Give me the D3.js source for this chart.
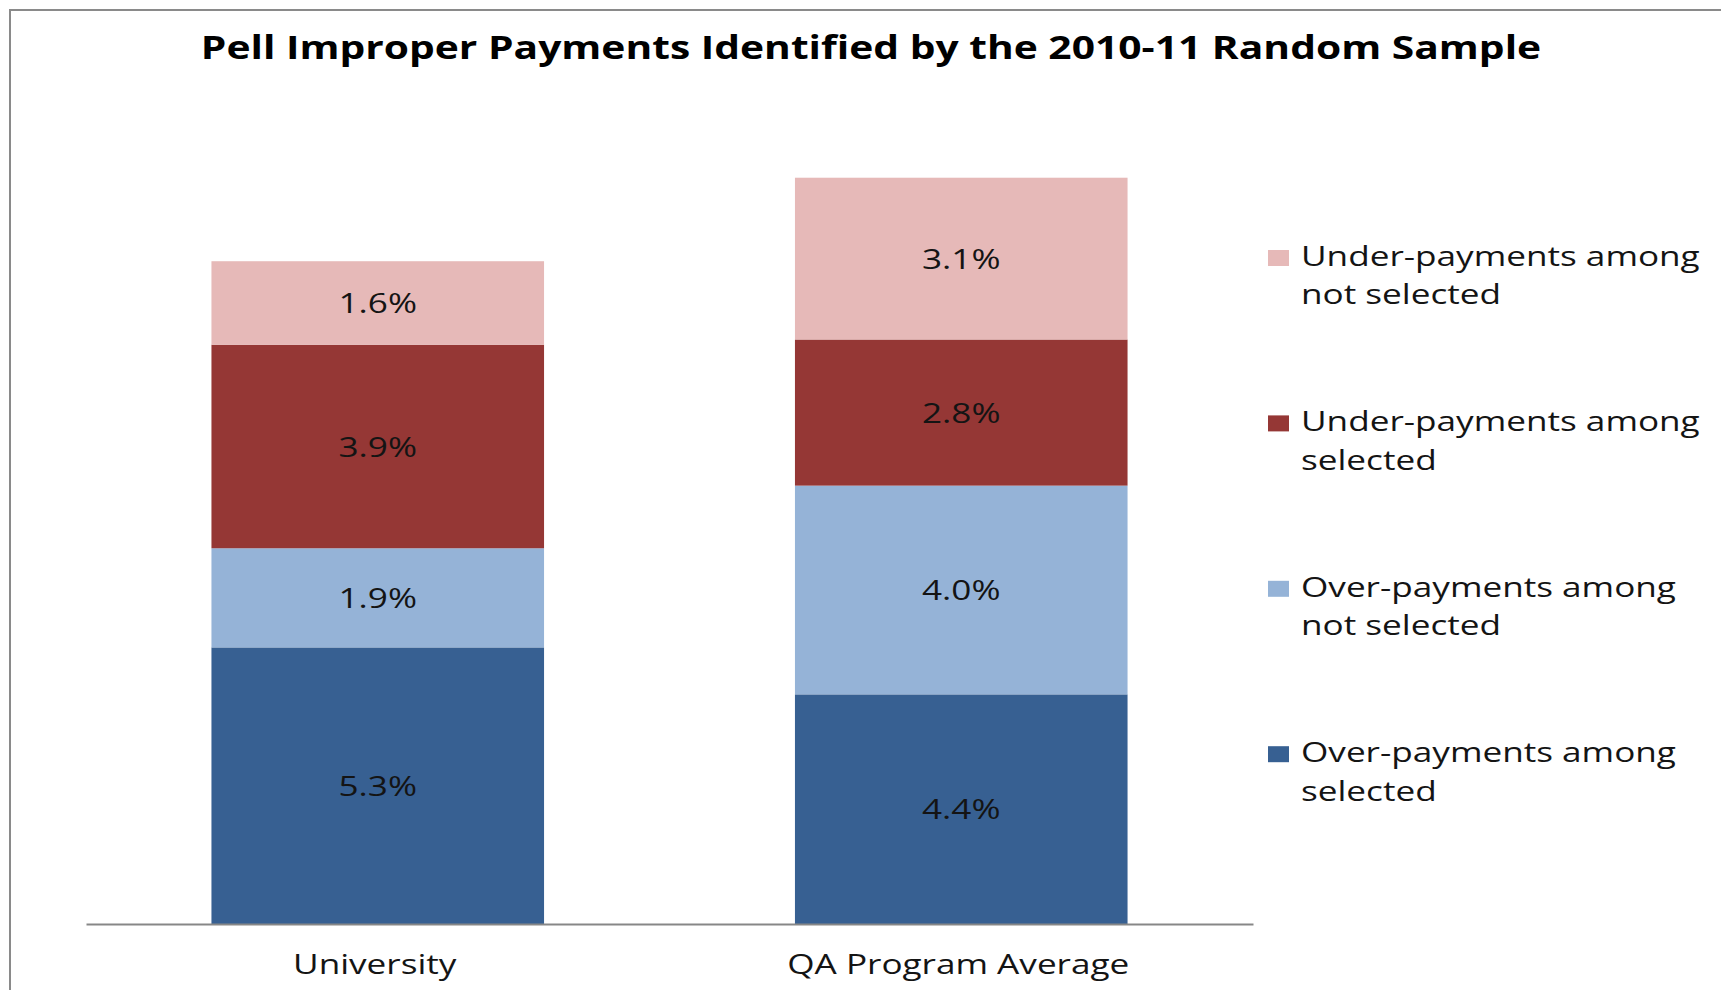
<!DOCTYPE html>
<html>
<head>
<meta charset="utf-8">
<script src="https://cdn.jsdelivr.net/npm/d3@7"></script>
<style>
  html, body { margin: 0; padding: 0; background: #fff; }
  svg { display: block; font-family: "Open Sans", sans-serif; }
</style>
</head>
<body>
<svg id="chart" width="1721" height="990"></svg>
<script>
// categories on the x axis
const categories = ["University", "QA Program Average"]

// series, bottom of the stack first
const seriesNames = [
    "Over-payments among selected",
    "Over-payments among not selected",
    "Under-payments among selected",
    "Under-payments among not selected"
]
const overSelected = [5.3, 4.4]
const overNotSelected = [1.9, 4.0]
const underSelected = [3.9, 2.8]
const underNotSelected = [1.6, 3.1]

const seriesColors = ["#376092", "#95B3D7", "#953735", "#E6B9B8"]

const titleText = "Pell Improper Payments Identified by the 2010-11 Random Sample"

// the whole picture is a bit stretched sideways, so is the text
const stretch = 1.255
const titleStretch = 1.235

const width = 1721
const height = 990
const margin = { top: 89, right: 468, bottom: 66, left: 86 }

const svg = d3.select("#chart")

// chart area frame (right and bottom edges fall outside the picture)
svg.append("rect")
    .attr("x", 10)
    .attr("y", 10)
    .attr("width", width + 20)
    .attr("height", height + 20)
    .attr("fill", "#fff")
    .attr("stroke", "#8a8a8a")
    .attr("stroke-width", 2)

svg.append("text")
    .attr("transform", `translate(871, 59) scale(${titleStretch}, 1)`)
    .attr("text-anchor", "middle")
    .attr("font-size", 33)
    .attr("font-weight", 700)
    .attr("fill", "#000")
    .text(titleText)

// build table for the stack
const table = categories.map((c, i) => ({
    category: c,
    [seriesNames[0]]: overSelected[i],
    [seriesNames[1]]: overNotSelected[i],
    [seriesNames[2]]: underSelected[i],
    [seriesNames[3]]: underNotSelected[i]
}))

const stacked = d3.stack().keys(seriesNames)(table)

const xScale = d3.scaleBand()
    .domain(categories)
    .range([margin.left, width - margin.right])
    .paddingInner(0.43)
    .paddingOuter(0.215)

const yScale = d3.scaleLinear()
    .domain([0, 16])
    .range([height - margin.bottom, margin.top])

const color = d3.scaleOrdinal()
    .domain(seriesNames)
    .range(seriesColors)

const layers = svg.append("g")
    .selectAll("g")
    .data(stacked)
    .enter()
    .append("g")
        .attr("fill", d => color(d.key))

layers.selectAll("rect")
    .data(d => d)
    .enter()
    .append("rect")
        .attr("x", d => xScale(d.data.category))
        .attr("y", d => yScale(d[1]))
        .attr("width", xScale.bandwidth())
        .attr("height", d => yScale(d[0]) - yScale(d[1]))

// value labels in the middle of each segment
layers.selectAll("text")
    .data(d => d)
    .enter()
    .append("text")
        .attr("transform", d => {
            const cx = xScale(d.data.category) + xScale.bandwidth() / 2
            const cy = (yScale(d[0]) + yScale(d[1])) / 2
            return `translate(${cx}, ${cy}) scale(${stretch}, 1)`
        })
        .attr("dy", "0.36em")
        .attr("text-anchor", "middle")
        .attr("font-size", 28)
        .attr("fill", "#141414")
        .text(d => d3.format(".1f")(d[1] - d[0]) + "%")

// category axis
const xAxisGenerator = d3.axisBottom(xScale)
    .tickSize(0)
    .tickSizeOuter(0)
    .tickPadding(0)

const xAxis = svg.append("g")
    .attr("transform", `translate(0, ${height - margin.bottom})`)
    .call(xAxisGenerator)

xAxis.select(".domain")
    .attr("stroke", "#878787")
    .attr("stroke-width", 2)

xAxis.selectAll(".tick text")
    .attr("y", 0)
    .attr("dy", 0)
    .attr("transform", `translate(-3, 50) scale(${stretch}, 1)`)
    .attr("font-family", "'Open Sans', sans-serif")
    .attr("font-size", 28)
    .attr("fill", "#141414")

// legend, top entry is the top of the stack
const legendSeries = seriesNames.slice().reverse()

const legend = svg.append("g")
    .selectAll("g")
    .data(legendSeries)
    .enter()
    .append("g")
        .attr("transform", (d, i) => `translate(1268, ${266 + i * 165.4})`)

legend.append("rect")
    .attr("x", 0)
    .attr("y", -16)
    .attr("width", 21)
    .attr("height", 16)
    .attr("fill", d => color(d))

const legendText = legend.append("text")
    .attr("transform", `translate(33, 0) scale(${stretch}, 1)`)
    .attr("font-size", 28)
    .attr("fill", "#141414")

legendText.selectAll("tspan")
    .data(d => {
        const cut = d.indexOf(" among ") + " among".length
        return [d.slice(0, cut), d.slice(cut + 1)]
    })
    .enter()
    .append("tspan")
        .attr("x", 0)
        .attr("y", (d, i) => i * 38.5)
        .text(d => d)
</script>
</body>
</html>
